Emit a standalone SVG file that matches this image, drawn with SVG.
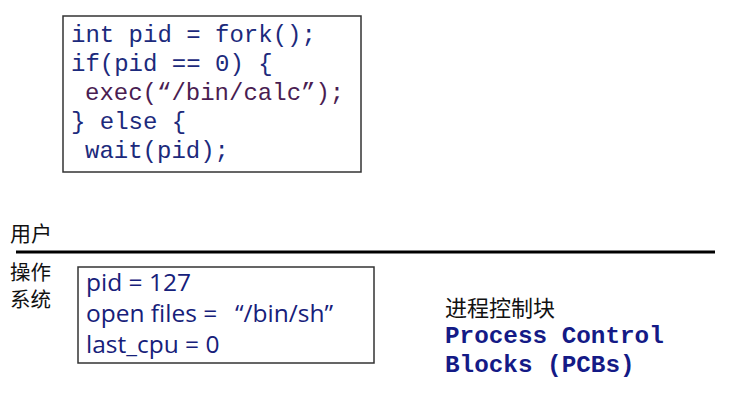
<svg xmlns="http://www.w3.org/2000/svg" width="741" height="415" viewBox="0 0 741 415">
<style>
.code{font-family:"Liberation Mono","DejaVu Sans Mono",monospace;font-size:24px;fill:#1c2a7c}
.exec{fill:#4a1d52}
.pcb{font-family:"Open Sans","Liberation Sans",sans-serif;font-size:24.5px;fill:#16207a}
.cn{font-family:"Noto Sans CJK SC",sans-serif;font-size:21px;fill:#111}
.bold{font-family:"Liberation Mono","Courier New",monospace;font-weight:bold;font-size:24.3px;fill:#141a86}
.box{fill:#fff;stroke:#333;stroke-width:1.5}
</style>
<rect width="741" height="415" fill="#fff"/>
<g id="code">
<rect class="box" x="63" y="16" width="298" height="156"/>
<text class="code" x="71" y="42">int pid = fork();</text>
<text class="code" x="71" y="71">if(pid == 0) {</text>
<text class="code exec" x="85" y="100">exec(“/bin/calc”);</text>
<text class="code" x="71" y="129">} else {</text>
<text class="code" x="85" y="158">wait(pid);</text>
</g>
<g id="user-label"><text class="cn" x="10" y="241">用户</text></g>
<g id="divider"><line x1="16" y1="252" x2="715" y2="252" stroke="#000" stroke-width="3"/></g>
<g id="os-label">
<text class="cn" style="font-size:20.5px"><tspan x="10" y="280">操作</tspan><tspan x="10" y="307">系统</tspan></text>
</g>
<g id="pcb">
<rect class="box" x="78" y="267" width="296" height="96"/>
<text class="pcb" x="86" y="291">pid = 127</text>
<text class="pcb" x="86" y="322">open files =  <tspan x="235">“/bin/sh”</tspan></text>
<text class="pcb" x="86" y="353">last_cpu = 0</text>
</g>
<g id="pcb-label">
<text class="cn" x="445" y="316" style="font-size:22px">进程控制块</text>
<text class="bold" x="445" y="343">Process Control</text>
<text class="bold" x="445" y="372">Blocks (PCBs)</text>
</g>
</svg>
